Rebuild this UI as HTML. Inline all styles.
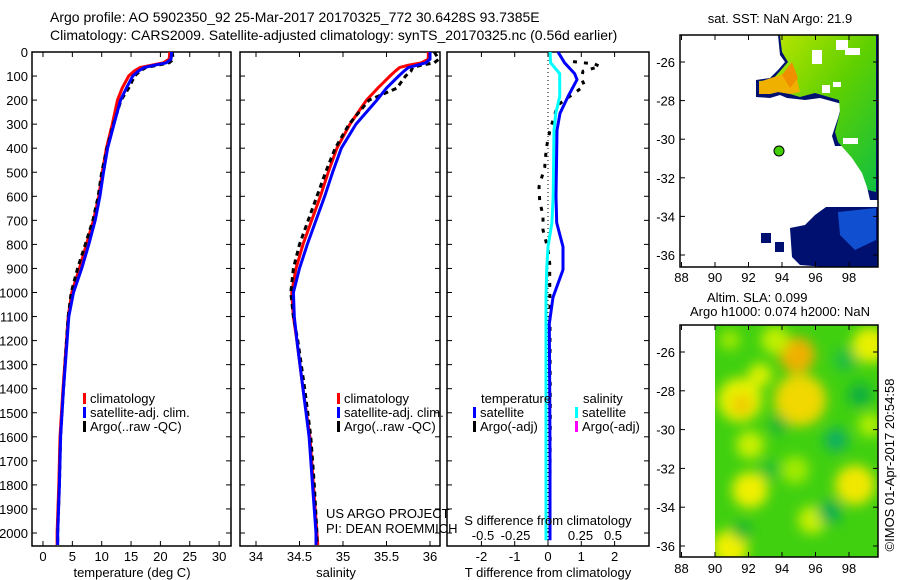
<!DOCTYPE html>
<html><head><meta charset="utf-8"><style>
body{margin:0;background:#fff;width:900px;height:580px;overflow:hidden}
svg{display:block;font-family:"Liberation Sans",sans-serif}
text{font-size:13px;fill:#000}
</style></head><body>
<svg id="c" width="900" height="580" viewBox="0 0 900 580">
<defs>
<filter id="bl" x="-20%" y="-20%" width="140%" height="140%"><feGaussianBlur stdDeviation="6"/></filter>
<clipPath id="m2c"><rect x="715" y="325" width="163" height="232"/></clipPath>
<linearGradient id="sstg" x1="0" y1="0" x2="1" y2="1"><stop offset="0" stop-color="#c8e800"/><stop offset="0.5" stop-color="#5fd000"/><stop offset="1" stop-color="#10c040"/></linearGradient>
</defs>
<text x="50" y="22" style="font-size:14px">Argo profile: AO 5902350_92 25-Mar-2017 20170325_772 30.6428S 93.7385E</text>
<text x="50" y="40" style="font-size:14px">Climatology: CARS2009. Satellite-adjusted climatology: synTS_20170325.nc (0.56d earlier)</text>
<g id="g"></g>
</svg>
<script>
const depths=[0,30,45,55,65,80,100,150,200,300,400,500,600,700,800,900,1000,1100,1200,1400,1600,1800,2000,2050];
const tClim=[21.6,21.5,20.5,18.5,16.5,15.5,14.6,13.5,12.7,11.8,10.8,10.1,9.5,8.6,7.4,6.2,4.9,4.3,4.0,3.4,2.9,2.7,2.4,2.4];
const tSat=[21.9,21.8,21.0,19.0,17.2,16.2,15.3,14.2,13.2,12.1,11.0,10.3,9.7,8.9,7.8,6.6,5.2,4.4,4.1,3.5,3.0,2.8,2.5,2.5];
const tArgo=[22.0,22.2,21.5,19.5,17.5,16.5,15.6,14.6,13.3,12.0,10.9,10.0,9.4,8.5,7.2,5.9,4.8,4.3,4.0,3.5,3.0,2.8,2.5,2.5];
const sClim=[35.98,35.98,35.9,35.75,35.65,35.6,35.54,35.4,35.27,35.08,34.93,34.83,34.74,34.64,34.54,34.46,34.41,34.43,34.47,34.54,34.62,34.66,34.70,34.71];
const sSat=[36.0,36.0,35.95,35.85,35.75,35.7,35.64,35.5,35.39,35.15,34.98,34.88,34.79,34.69,34.59,34.5,34.43,34.44,34.47,34.54,34.61,34.65,34.69,34.69];
const sArgo=[36.05,36.1,36.05,35.9,35.8,35.78,35.72,35.62,35.3,35.07,34.91,34.8,34.7,34.6,34.5,34.43,34.4,34.43,34.48,34.56,34.63,34.67,34.70,34.70];
const dDepths=[0,45,90,115,185,255,325,600,710,810,905,1020,1130,1400,1700,2000,2030];
const dTSat=[0.3,0.5,0.8,0.87,0.6,0.36,0.27,0.24,0.26,0.45,0.45,0.15,0.04,0.05,0.06,0.06,0.06];
const dSSat=[0.015,0.02,0.09,0.09,0.09,0.06,0.046,0.04,0.03,0.0,-0.01,-0.015,-0.015,-0.015,-0.015,-0.015,-0.015];
const aDepths=[40,50,60,80,110,140,170,220,260,330,400,480,560,620,680,740,820,880,950,1050,1200,1500,1800,2000];
const aTDiff=[0.75,1.4,1.56,1.05,1.0,1.1,0.8,0.3,0.2,0.05,-0.05,-0.1,-0.27,-0.25,-0.15,-0.15,0.0,0.05,0.05,0.06,0.06,0.07,0.06,0.06];
const depthTicks=[0,100,200,300,400,500,600,700,800,900,1000,1100,1200,1300,1400,1500,1600,1700,1800,1900,2000];
const tTicks=[0,5,10,15,20,25,30];
const sTicks=[34,34.5,35,35.5,36];
const dtTicks=[-2,-1,0,1,2];
const dsTicks=[-0.5,-0.25,0,0.25,0.5];
const latTicks=[-26,-28,-30,-32,-34,-36];
const lonTicks=[88,90,92,94,96,98];

const NS='http://www.w3.org/2000/svg';
const G=document.getElementById('g');
function el(t,a,p){const e=document.createElementNS(NS,t);for(const k in a)e.setAttribute(k,a[k]);(p||G).appendChild(e);return e;}
function txt(x,y,s,anchor,size){const e=el('text',{x:x,y:y,'text-anchor':anchor||'start'});if(size)e.style.fontSize=size+'px';e.textContent=s;return e;}
const yD=d=>52+d*0.2405;
const xT=v=>43+v*5.87;
const xS=v=>256+(v-34)*87;
const xDT=v=>548+v*33.3;
const xDS=v=>548+v*130;
const xLon=v=>681.5+(v-88)*16.75;
const yLat1=v=>62+(-26-v)*19.3;
const yLat2=v=>352+(-26-v)*19.4;

function frame(x1,x2,name){
  const r=el('rect',{x:x1,y:52,width:x2-x1,height:494,fill:'none',stroke:'#000','stroke-width':1.5});
  
  
  depthTicks.forEach(d=>{el('line',{x1:x1,x2:x1+5,y1:yD(d),y2:yD(d),stroke:'#000'});el('line',{x1:x2-5,x2:x2,y1:yD(d),y2:yD(d),stroke:'#000'});});
}
function line(xs,ds,fx,col,w,name,dash){
  const p=xs.map((v,i)=>fx(v).toFixed(1)+','+yD(ds[i]).toFixed(1)).join(' ');
  const e=el('polyline',{points:p,fill:'none',stroke:col,'stroke-width':w,'stroke-linejoin':'round'});
  if(dash)e.setAttribute('stroke-dasharray',dash);
  
  
}
frame(32,231,'temperature-panel');
depthTicks.forEach(d=>{const t=txt(28,yD(d)+5,String(d),'end');});
tTicks.forEach(v=>{el('line',{x1:xT(v),x2:xT(v),y1:52,y2:57,stroke:'#000'});el('line',{x1:xT(v),x2:xT(v),y1:541,y2:546,stroke:'#000'});const t=txt(xT(v),561,String(v),'middle');});
line(tClim,depths,xT,'#f00',3,'temp-climatology-line');
line(tArgo,depths,xT,'#000',3,'temp-argo-line','5 4');
line(tSat,depths,xT,'#00f',3,'temp-satellite-line');
let t1=txt(132,577,'temperature (deg C)','middle');
frame(240,440,'salinity-panel');
sTicks.forEach(v=>{el('line',{x1:xS(v),x2:xS(v),y1:52,y2:57,stroke:'#000'});el('line',{x1:xS(v),x2:xS(v),y1:541,y2:546,stroke:'#000'});const t=txt(xS(v),561,String(v),'middle');});
line(sClim,depths,xS,'#f00',3,'sal-climatology-line');
line(sArgo,depths,xS,'#000',3,'sal-argo-line','5 4');
line(sSat,depths,xS,'#00f',3,'sal-satellite-line');
let t2=txt(336,577,'salinity','middle');
txt(326,518,'US ARGO PROJECT');txt(326,533,'PI: DEAN ROEMMICH');
function legend(x,y,items,name){const g=el('g',{});
  items.forEach((it,i)=>{el('rect',{x:x,y:y+i*14-10,width:3,height:11,fill:it[1]},g);el('text',{x:x+7,y:y+i*14},g).textContent=it[0];});}
legend(83,403,[['climatology','#f00'],['satellite-adj. clim.','#00f'],['Argo(..raw -QC)','#000']],'temp-legend');
legend(337,403,[['climatology','#f00'],['satellite-adj. clim.','#00f'],['Argo(..raw -QC)','#000']],'sal-legend');
frame(447,649,'difference-panel');
el('line',{x1:548,x2:548,y1:52,y2:546,stroke:'#000','stroke-dasharray':'1 3'});
dtTicks.forEach(v=>{el('line',{x1:xDT(v),x2:xDT(v),y1:52,y2:57,stroke:'#000'});el('line',{x1:xDT(v),x2:xDT(v),y1:541,y2:546,stroke:'#000'});const t=txt(xDT(v),561,String(v),'middle');});
dsTicks.forEach(v=>{const t=txt(xDS(v),540,String(v),'middle');});
line(aTDiff,aDepths,xDT,'#000',3,'tdiff-argo-line','4 7');
line(dSSat,dDepths,xDS,'#0ff',3,'sdiff-satellite-line');
line(dTSat,dDepths,xDT,'#00f',3,'tdiff-satellite-line');
txt(481,403,'temperature');txt(583,403,'salinity');
legend(473,417,[['satellite','#00f'],['Argo(-adj)','#000']],'tdiff-legend');
legend(575,417,[['satellite','#0ff'],['Argo(-adj)','#f0f']],'sdiff-legend');
let t3=txt(548,525,'S difference from climatology','middle');
let t4=txt(548,577,'T difference from climatology','middle');
let m1t=txt(780,23,'sat. SST: NaN Argo: 21.9','middle');
const m1=el('g',{});
el('polygon',{points:'778,35 878,35 878,200 870,200 865,178 858,162 846,146 835,146 832,136 838,118 842,104 820,98 805,100 787,98 780,95 770,98 756,97 756,80 770,78 778,70 785,62 780,55',fill:'#001070'},m1);
el('polygon',{points:'780,35 876,35 876,192 868,190 862,173 852,158 838,142 835,132 840,112 839,100 815,93 800,97 790,94 778,92 770,94 759,94 759,81 772,80 781,70 788,62 782,52',fill:'url(#sstg)'},m1);
el('polygon',{points:'759,82 795,70 800,92 790,94 778,92 770,94 759,94',fill:'#f0b000'},m1);
el('polygon',{points:'782,75 792,62 798,78 790,88',fill:'#f09000'},m1);
[[836,40,12,10],[845,48,15,7],[812,50,10,14],[843,138,15,6],[822,85,8,8],[833,82,8,5]].forEach(r=>el('rect',{x:r[0],y:r[1],width:r[2],height:r[3],fill:'#fff'},m1));
el('polygon',{points:'826,207 878,207 878,267 825,267 800,265 792,257 790,228 805,225 815,215',fill:'#001070'},m1);
el('polygon',{points:'838,212 876,208 876,240 855,250 840,235',fill:'#1050d0'},m1);
el('rect',{x:761,y:233,width:10,height:10,fill:'#001070'},m1);el('rect',{x:775,y:242,width:9,height:10,fill:'#001070'},m1);
el('circle',{cx:779,cy:151,r:5,fill:'#40d000',stroke:'#000'},m1);
el('rect',{x:680,y:35,width:198,height:232,fill:'none',stroke:'#000','stroke-width':1.5});
let m2a=txt(707,302,'Altim. SLA: 0.099');
let m2b=txt(690,316,'Argo h1000: 0.074 h2000: NaN');
const m2=el('g',{'clip-path':'url(#m2c)'});
el('rect',{x:715,y:325,width:163,height:232,fill:'#40d010'},m2);
const bl=el('g',{filter:'url(#bl)'},m2);
[[740,400,22,'#e8f000'],[742,405,10,'#f0c800'],[797,355,18,'#f0b000'],[800,400,26,'#f0d800'],[750,445,14,'#c8f000'],[750,490,18,'#f0f000'],[855,485,20,'#f0e800'],[730,548,18,'#f0f000'],[870,345,18,'#e8f000'],[775,340,14,'#c0f000'],[760,375,12,'#d8f000'],[812,520,14,'#c8f000'],[870,425,12,'#b0ee00'],[795,470,14,'#a0ea00'],[730,340,10,'#a0ea00']].forEach(b=>el('circle',{cx:b[0],cy:b[1],r:b[2],fill:b[3]},bl));
[[836,440,12,'#10b060'],[830,512,12,'#10b050'],[742,530,10,'#20b830'],[778,425,10,'#20b830'],[860,395,12,'#10b040'],[770,470,10,'#20c030'],[845,360,12,'#20c040']].forEach(b=>el('circle',{cx:b[0],cy:b[1],r:b[2],fill:b[3]},bl));
el('rect',{x:680,y:325,width:198,height:232,fill:'none',stroke:'#000','stroke-width':1.5});
latTicks.forEach(v=>{[yLat1(v),yLat2(v)].forEach(y=>{el('line',{x1:680,x2:685,y1:y,y2:y,stroke:'#000'});el('line',{x1:873,x2:878,y1:y,y2:y,stroke:'#000'});const t=txt(675,y+5,String(v),'end');});});
lonTicks.forEach(v=>{[[35,267,282],[325,557,573]].forEach(a=>{el('line',{x1:xLon(v),x2:xLon(v),y1:a[0],y2:a[0]+5,stroke:'#000'});el('line',{x1:xLon(v),x2:xLon(v),y1:a[1]-5,y2:a[1],stroke:'#000'});const t=txt(xLon(v),a[2],String(v),'middle');});});
const cp=txt(0,0,'©IMOS 01-Apr-2017 20:54:58','middle');cp.setAttribute('transform','translate(894,465) rotate(-90)');


</script>
</body></html>
